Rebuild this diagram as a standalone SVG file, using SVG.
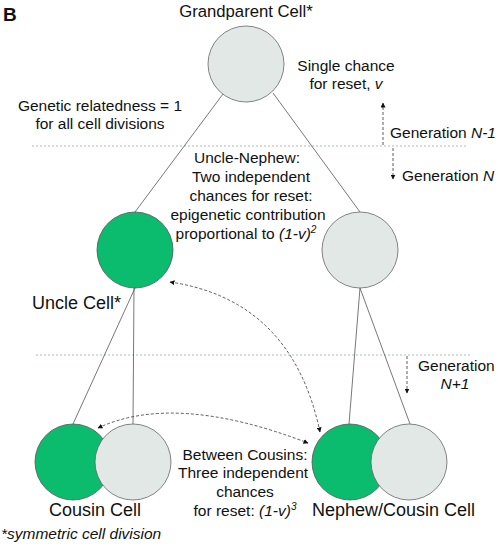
<svg xmlns="http://www.w3.org/2000/svg" width="498" height="546" viewBox="0 0 498 546">
<defs>
<marker id="ah" viewBox="0 0 10 10" refX="9" refY="5" markerWidth="5" markerHeight="5" orient="auto-start-reverse" markerUnits="userSpaceOnUse">
<path d="M0,0 L10,5 L0,10 z" fill="#111"/>
</marker>
<style>
text{font-family:"Liberation Sans",Arial,sans-serif;fill:#111}
.t{font-size:15.5px}
.L{font-size:18px}
.c{text-anchor:middle}
.g{fill:#0bbb6e;stroke:#555;stroke-width:0.8}
.w{fill:#e2e8e6;stroke:#666;stroke-width:0.8}
.ln{stroke:#555;stroke-width:0.8;fill:none}
.hd{stroke:#9aa;stroke-width:0.8;stroke-dasharray:2,2;fill:none}
.ad{stroke:#333;stroke-width:0.8;stroke-dasharray:3,2;fill:none}
</style>
</defs>
<g id="connectors">
<line class="hd" x1="32" y1="146" x2="467" y2="146"/>
<line class="hd" x1="36" y1="355" x2="470" y2="355"/>
<line class="ln" x1="223" y1="94" x2="135" y2="212"/>
<line class="ln" x1="273" y1="93" x2="360" y2="212"/>
<line class="ln" x1="135" y1="288" x2="73" y2="424"/>
<line class="ln" x1="134" y1="288" x2="133" y2="424"/>
<line class="ln" x1="360" y1="288" x2="349" y2="424"/>
<line class="ln" x1="360" y1="288" x2="410" y2="424"/>
<line class="ad" x1="383" y1="145" x2="383" y2="103" marker-end="url(#ah)"/>
<line class="ad" x1="393" y1="148" x2="393" y2="179" marker-end="url(#ah)"/>
<line class="ad" x1="407" y1="356" x2="407" y2="393" marker-end="url(#ah)"/>
<path class="ad" d="M170,282 Q292,300 320,432" marker-start="url(#ah)" marker-end="url(#ah)"/>
<path class="ad" d="M98,428 Q175,392 308,443" marker-start="url(#ah)" marker-end="url(#ah)"/>
</g>
<g id="grandparent"><circle class="w" cx="246" cy="64" r="38"/></g>
<g id="uncle"><circle class="g" cx="135" cy="250" r="38"/></g>
<g id="sibling"><circle class="w" cx="360" cy="250" r="38"/></g>
<g id="cousin"><circle class="g" cx="73" cy="462" r="38"/><circle class="w" cx="133" cy="462" r="38"/></g>
<g id="nephew"><circle class="g" cx="350" cy="462" r="38"/><circle class="w" cx="409" cy="462" r="38"/></g>
<g id="labels">
<text x="3" y="21" style="font-size:19px;font-weight:bold">B</text>
<text class="c" x="246" y="17" style="font-size:16.7px">Grandparent Cell*</text>
<text class="t c" x="346" y="71">Single chance</text>
<text class="t c" x="346" y="89">for reset, <tspan font-style="italic">v</tspan></text>
<text class="t c" x="100" y="111">Genetic relatedness = 1</text>
<text class="t c" x="100" y="129">for all cell divisions</text>
<text class="t" x="390" y="138">Generation <tspan font-style="italic">N-1</tspan></text>
<text class="t" x="402" y="181">Generation <tspan font-style="italic">N</tspan></text>
<text class="t c" x="247" y="163">Uncle-Nephew:</text>
<text class="t c" x="251" y="182">Two independent</text>
<text class="t c" x="251" y="201">chances for reset:</text>
<text class="t c" x="248" y="220">epigenetic contribution</text>
<text class="t c" x="246" y="239">proportional to <tspan font-style="italic">(1-v)</tspan><tspan font-style="italic" font-size="10" dy="-6">2</tspan></text>
<text class="L" x="32" y="309">Uncle Cell*</text>
<text class="t" x="418" y="371">Generation</text>
<text class="t c" x="455" y="389" font-style="italic">N+1</text>
<text class="L c" x="95" y="516">Cousin Cell</text>
<text class="t c" x="245" y="460">Between Cousins:</text>
<text class="t c" x="243" y="478">Three independent</text>
<text class="t c" x="245" y="497">chances</text>
<text class="t c" x="245" y="516">for reset: <tspan font-style="italic">(1-v)</tspan><tspan font-style="italic" font-size="10" dy="-6">3</tspan></text>
<text class="L" x="312" y="516">Nephew/Cousin Cell</text>
<text class="t" x="1" y="539" font-style="italic">*symmetric cell division</text>
</g>
</svg>
